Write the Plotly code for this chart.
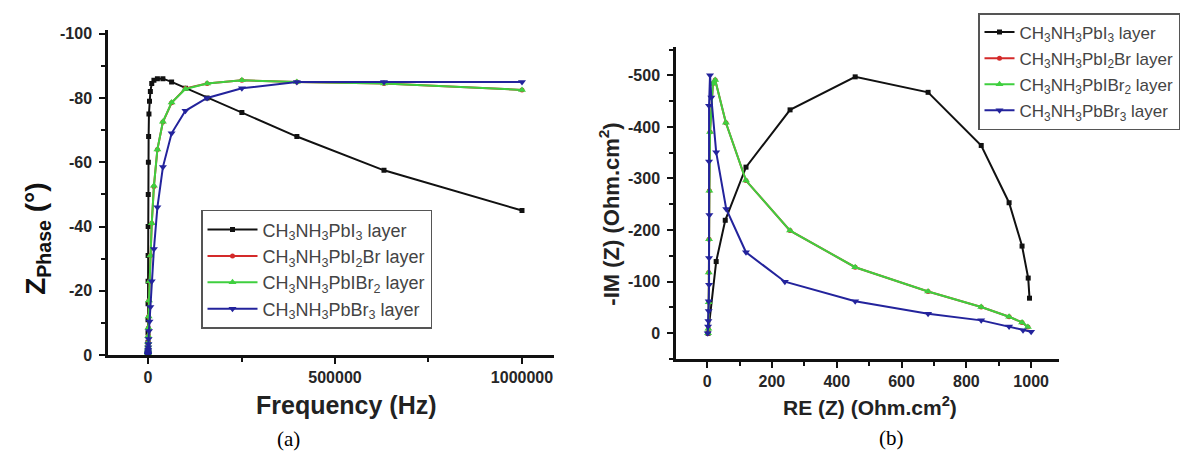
import plotly.graph_objects as go

# ---------------- data: panel (a) Bode phase ----------------
freq_hz = [1000000, 631000, 398000, 251000, 158000, 100000, 63100, 39800, 25100, 15800,
           10000, 6310, 3980, 2510, 1580, 1000, 631, 398, 251, 158, 100, 63, 40, 25, 16, 10]
phase_pbi3 = [-45, -57.5, -68, -75.5, -80, -83, -85, -86, -86, -85.5, -84.5, -82, -79, -75,
              -68, -60, -50, -40, -31, -23, -16, -11, -7, -4, -2, -1]
phase_pbi2br = [-82.5, -84.5, -85, -85.5, -84.5, -83, -78.5, -72.5, -64, -52.5, -41, -31, -23,
                -17, -12, -8.5, -6, -4, -3, -2, -1.5, -1, -0.7, -0.5, -0.3, -0.2]
phase_pbibr2 = [-82.5, -84.5, -85, -85.5, -84.5, -82.8, -78.6, -72.6, -64, -52.7, -41, -31, -23,
                -17, -12, -8.5, -6, -4, -3, -2, -1.5, -1, -0.7, -0.5, -0.3, -0.2]
phase_pbbr3 = [-85, -85, -85, -83, -80, -76, -69, -58.5, -46, -33, -23, -15, -10.5, -7.5, -5,
               -3.5, -2.5, -1.7, -1.2, -0.8, -0.5, -0.4, -0.3, -0.2, -0.1, -0.1]

# ---------------- data: panel (b) Nyquist ----------------
re_pbi3 = [3, 28, 56, 120, 256, 457, 682, 846, 932, 972, 991, 995]
im_pbi3 = [0, -139, -219, -322, -433, -497, -467, -364, -253, -169, -107, -68]
re_pbibr2 = [3, 4, 5, 5, 6, 7, 9, 18, 25, 58, 120, 256, 457, 682, 846, 932, 972, 990]
im_pbibr2 = [0, -9, -60, -118, -182, -276, -390, -484, -491, -408, -296, -199, -128, -81, -51,
             -32, -21, -12]
re_pbi2br = [3, 4, 5, 5, 6, 7, 9, 18, 25, 58, 120, 256, 457, 682, 846, 932, 972, 990]
im_pbi2br = [0, -9, -60, -118, -182, -276, -390, -484, -491, -408, -296, -199, -128, -81, -51,
             -32, -21, -12]
re_pbbr3 = [2, 3, 4, 5, 5, 6, 6, 7, 6, 6, 9, 13, 28, 59, 120, 240, 457, 682, 846, 932, 975, 1000]
im_pbbr3 = [0, -13, -24, -43, -62, -94, -146, -229, -333, -441, -500, -457, -351, -241, -157,
            -100, -62, -38, -25, -13, -6, -3]

series_names = ["CH<sub>3</sub>NH<sub>3</sub>PbI<sub>3</sub> layer",
                "CH<sub>3</sub>NH<sub>3</sub>PbI<sub>2</sub>Br layer",
                "CH<sub>3</sub>NH<sub>3</sub>PbIBr<sub>2</sub> layer",
                "CH<sub>3</sub>NH<sub>3</sub>PbBr<sub>3</sub> layer"]

# tick labels
a_xticks = [0, 500000, 1000000]
a_xlabels = ["0", "500000", "1000000"]
a_yticks = [0, -20, -40, -60, -80, -100]
a_ylabels = ["0", "-20", "-40", "-60", "-80", "-100"]
b_xticks = [0, 200, 400, 600, 800, 1000]
b_xlabels = ["0", "200", "400", "600", "800", "1000"]
b_yticks = [0, -100, -200, -300, -400, -500]
b_ylabels = ["0", "-100", "-200", "-300", "-400", "-500"]

# styles
colors = ["#111111", "#d42a2a", "#3fcf3f", "#23239c"]
symbols = ["square", "circle", "triangle-up", "triangle-down"]
msizes = [5, 5, 7, 7]

fig = go.Figure()

a_y = [phase_pbi3, phase_pbi2br, phase_pbibr2, phase_pbbr3]
b_x = [re_pbi3, re_pbi2br, re_pbibr2, re_pbbr3]
b_y = [im_pbi3, im_pbi2br, im_pbibr2, im_pbbr3]

for i in range(4):
    fig.add_trace(go.Scatter(
        x=freq_hz, y=a_y[i], mode="lines+markers", name=series_names[i],
        line=dict(color=colors[i], width=2),
        marker=dict(symbol=symbols[i], size=msizes[i], color=colors[i]),
        xaxis="x", yaxis="y", legend="legend"))
for i in range(4):
    fig.add_trace(go.Scatter(
        x=b_x[i], y=b_y[i], mode="lines+markers", name=series_names[i],
        line=dict(color=colors[i], width=2),
        marker=dict(symbol=symbols[i], size=msizes[i], color=colors[i]),
        xaxis="x2", yaxis="y2", legend="legend2", legendgroup="b%d" % i))

tickfont = dict(family="Liberation Sans, Arial", size=16, color="#262626", weight="bold")
axis_common = dict(showline=True, linecolor="#111111", linewidth=2.5, ticks="outside",
                   ticklen=6, tickwidth=2, tickcolor="#111111", showgrid=False,
                   zeroline=False, tickmode="array", tickfont=tickfont, mirror=False)

W, H = 1192, 457
def px_x(p):
    return p / W
def px_y(p):
    return 1 - p / H

fig.update_layout(
    width=W, height=H, margin=dict(l=0, r=0, t=0, b=0),
    paper_bgcolor="white", plot_bgcolor="white",
    font=dict(family="Liberation Sans, Arial", color="#333333"),
    xaxis=dict(domain=[px_x(100), px_x(546)], range=[-107000, 1085600],
               tickvals=a_xticks, ticktext=a_xlabels, anchor="y",
               minor=dict(tickmode="linear", tick0=0, dtick=250000, ticklen=4, tickwidth=1.5,
                          ticks="outside", tickcolor="#111111"),
               **axis_common),
    yaxis=dict(domain=[px_y(353), px_y(18)], range=[0, -101],
               tickvals=a_yticks, ticktext=a_ylabels, anchor="x", ticklabelstandoff=4,
               minor=dict(tickmode="linear", tick0=0, dtick=10, ticklen=4, tickwidth=1.5,
                          ticks="outside", tickcolor="#111111"),
               **axis_common),
    xaxis2=dict(domain=[px_x(668), px_x(1051)], range=[-96, 1086],
                tickvals=b_xticks, ticktext=b_xlabels, anchor="y2",
                minor=dict(tickmode="linear", tick0=0, dtick=100, ticklen=4, tickwidth=1.5,
                           ticks="outside", tickcolor="#111111"),
                **axis_common),
    yaxis2=dict(domain=[px_y(357), px_y(35)], range=[50, -555],
                tickvals=b_yticks, ticktext=b_ylabels, anchor="x2", ticklabelstandoff=4,
                minor=dict(tickmode="linear", tick0=0, dtick=50, ticklen=4, tickwidth=1.5,
                           ticks="outside", tickcolor="#111111"),
                **axis_common),
    legend=dict(x=px_x(193), y=px_y(203), xanchor="left", yanchor="top",
                bordercolor="#555555", borderwidth=1.5, bgcolor="white",
                font=dict(family="Liberation Sans, Arial", size=18, color="#444444"),
                tracegroupgap=0, itemwidth=50),
    legend2=dict(x=px_x(970), y=1.0, xanchor="left", yanchor="top",
                 bordercolor="#555555", borderwidth=1.5, bgcolor="white",
                 font=dict(family="Liberation Sans, Arial", size=17, color="#444444"),
                 tracegroupgap=1, itemwidth=30),
    showlegend=True,
)

annots = [
    dict(text="<b>Frequency (Hz)</b>", x=px_x(338), y=px_y(404), size=25, angle=0,
         family="Liberation Sans, Arial", color="#222222"),
    dict(text="<b>Z<sub>Phase</sub> (°)</b>", x=px_x(30), y=px_y(233), size=28, angle=-90,
         family="Liberation Sans, Arial", color="#111111"),
    dict(text="<b>RE (Z) (Ohm.cm<sup>2</sup>)</b>", x=px_x(862), y=px_y(405), size=21, angle=0,
         family="Liberation Sans, Arial", color="#222222"),
    dict(text="<b>-IM (Z) (Ohm.cm<sup>2</sup>)</b>", x=px_x(601), y=px_y(208), size=22, angle=-90,
         family="Liberation Sans, Arial", color="#222222"),
    dict(text="(a)", x=px_x(280), y=px_y(439), size=21, angle=0,
         family="Liberation Serif, Times New Roman", color="#000000"),
    dict(text="(b)", x=px_x(883), y=px_y(438), size=21, angle=0,
         family="Liberation Serif, Times New Roman", color="#000000"),
]
for a in annots:
    fig.add_annotation(text=a["text"], x=a["x"], y=a["y"], xref="paper", yref="paper",
                       xanchor="center", yanchor="middle", showarrow=False,
                       textangle=a["angle"],
                       font=dict(size=a["size"], family=a["family"], color=a["color"]))

fig.write_html("out.html")
